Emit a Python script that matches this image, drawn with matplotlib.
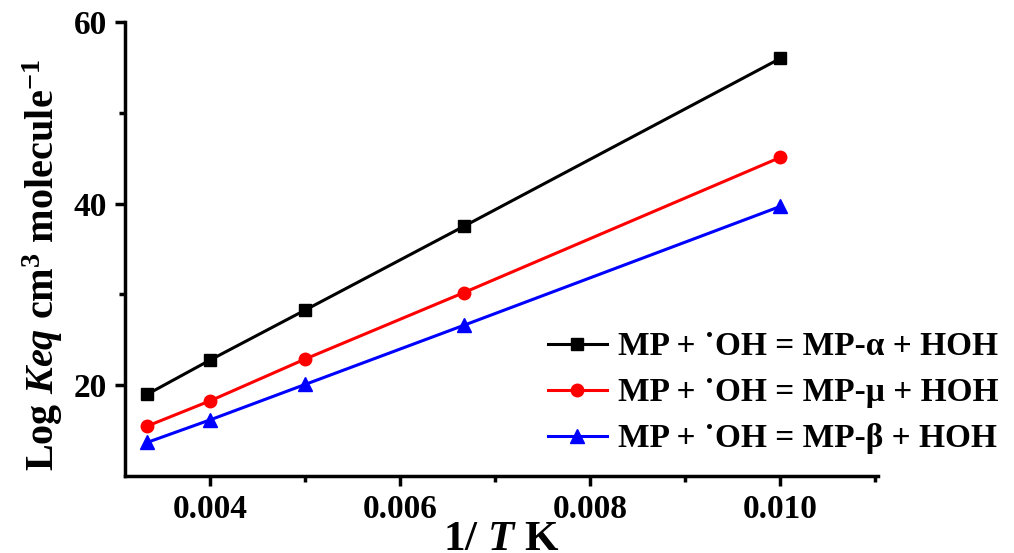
import matplotlib
matplotlib.use("Agg")
import matplotlib.pyplot as plt

plt.rcParams['font.family'] = ['Liberation Serif', 'DejaVu Serif']
plt.rcParams['font.weight'] = 'bold'
plt.rcParams['mathtext.fontset'] = 'custom'
plt.rcParams['mathtext.rm'] = 'Liberation Serif:bold'
plt.rcParams['mathtext.it'] = 'Liberation Serif:italic:bold'
plt.rcParams['mathtext.bf'] = 'Liberation Serif:bold'

inv_T = [1/300, 1/250, 1/200, 1/150, 1/100]
alpha_vals = [19.0, 22.8, 28.3, 37.5, 56.0]
mu_vals = [15.5, 18.3, 22.9, 30.2, 45.1]
beta_vals = [13.7, 16.2, 20.1, 26.6, 39.7]
labels = ["MP + \u02d9OH = MP-\u03b1 + HOH",
          "MP + \u02d9OH = MP-\u03bc + HOH",
          "MP + \u02d9OH = MP-\u03b2 + HOH"]
xticks = [0.004, 0.006, 0.008, 0.010]
xtick_labels = ["0.004", "0.006", "0.008", "0.010"]
yticks = [20, 40, 60]

fig = plt.figure(figsize=(10.14, 5.53), dpi=100)
ax = fig.add_axes([0.1233, 0.1392, 0.7427, 0.8208])

ax.plot(inv_T, alpha_vals, color='black', marker='s', markersize=8.5, lw=2.2, label=labels[0])
ax.plot(inv_T, mu_vals, color='red', marker='o', markersize=9, lw=2.2, label=labels[1])
ax.plot(inv_T, beta_vals, color='blue', marker='^', markersize=9.5, lw=2.2, label=labels[2])

ax.set_xlim(0.0031, 0.01103)
ax.set_ylim(10, 60)
ax.set_xticks(xticks)
ax.set_xticklabels(xtick_labels)
ax.set_xticks([0.005, 0.007, 0.009, 0.011], minor=True)
ax.set_yticks(yticks)
ax.set_yticks([30, 50], minor=True)

for s in ['top', 'right']:
    ax.spines[s].set_visible(False)
for s in ['left', 'bottom']:
    ax.spines[s].set_linewidth(2.5)

ax.tick_params(axis='both', which='major', direction='out', length=7, width=2.5, labelsize=24, pad=6)
ax.tick_params(axis='both', which='minor', direction='out', length=4, width=2.5)
for lab in ax.get_xticklabels() + ax.get_yticklabels():
    lab.set_fontweight('bold')

ax.set_xlabel(r"1/ $\mathit{T}$ K", fontsize=31, fontweight='bold')
ax.xaxis.set_label_coords(0.5, -0.1)
ax.set_ylabel(r"Log $\mathit{Keq}$ cm$^{3}$ molecule$^{-1}$", fontsize=29, fontweight='bold')
ax.yaxis.set_label_coords(-0.08, 0.465)

leg = ax.legend(loc='lower right', bbox_to_anchor=(1.2, -0.018), frameon=False,
                prop={'family': 'Liberation Serif', 'weight': 'bold', 'size': 24},
                handlelength=1.75, labelspacing=0.45, handletextpad=0.35)

fig.savefig("out.png", dpi=100)
